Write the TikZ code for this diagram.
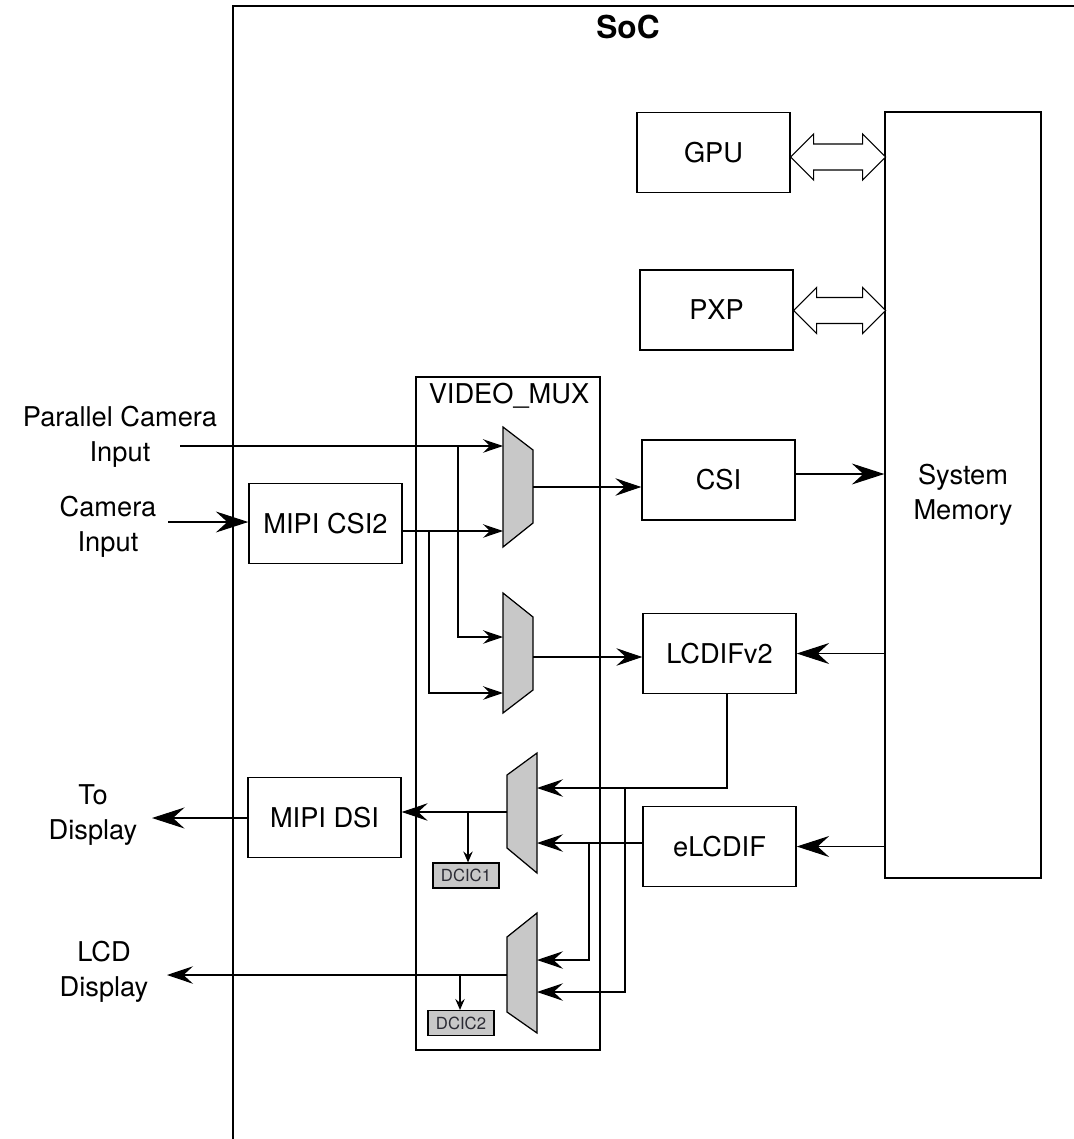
\documentclass[tikz,border=0pt]{standalone}
\usepackage{fontspec}
\setmainfont{TeX Gyre Heros}
\usetikzlibrary{arrows.meta,positioning}
\definecolor{GrisMux}{HTML}{C8C8C8}
\definecolor{TextoDcic}{HTML}{2A2A33}
\tikzset{
  bigtip/.tip={Stealth[length=6.5mm,width=4.2mm,inset=2.3mm]},
  midtip/.tip={Stealth[length=5.2mm,width=3.5mm,inset=1.9mm]},
  smalltip/.tip={Stealth[length=4mm,width=2.7mm,inset=1.4mm]},
  tinytip/.tip={Stealth[length=2.2mm,width=1.9mm,inset=0.8mm]}
}

\begin{document}
\begin{tikzpicture}[
  x=0.02cm,y=-0.02cm,
  font=\fontsize{15.5}{20}\selectfont,
  blk/.style={draw,line width=0.8pt,minimum width=3.06cm,minimum height=1.6cm,inner sep=0pt},
  wire/.style={line width=0.6pt},
  bigarr/.style={wire,-bigtip},
  midarr/.style={wire,-midtip},
  smallarr/.style={wire,-smalltip},
  tinyarr/.style={wire,-tinytip},
  muxbox/.style={draw,line width=0.7pt,fill=GrisMux},
  dcic/.style={draw,line width=0.7pt,fill=GrisMux,minimum width=1.32cm,minimum height=0.5cm,
    inner sep=0pt,text=TextoDcic,font=\fontsize{9.5}{11}\selectfont},
  lbl/.style={align=center},
  dblarr/.style={draw,line width=0.6pt,fill=white}
]
  \useasboundingbox (0,0) rectangle (1074,1139);

  % Frontera del SoC
  \draw[line width=1pt] (1074,6) -- (233,6) -- (233,1139);
  \node[font=\bfseries\fontsize{18}{20}\selectfont] (soc) at (628,27) {SoC};

  % Bloques
  \node[blk] (gpu) at (713.5,152.5) {GPU};
  \node[blk] (pxp) at (716.5,310) {PXP};
  \node[blk] (csi) at (718.5,480) {CSI};
  \node[blk] (lcdif) at (719.5,653.5) {LCDIFv2};
  \node[blk] (elcdif) at (719.5,846.5) {eLCDIF};
  \node[blk] (csitwo) at (325.5,523.5) {MIPI CSI2};
  \node[blk] (dsi) at (324.5,817.5) {MIPI DSI};
  \node[draw,line width=0.8pt,minimum width=3.12cm,minimum height=15.32cm,align=center]
    (mem) at (963,495) {System\\Memory};

  % Caja VIDEO_MUX
  \node[draw,line width=0.7pt,minimum width=3.68cm,minimum height=13.46cm] (vmux) at (508,713.5) {};
  \node (vmlbl) at (509,396) {VIDEO\_MUX};

  % Multiplexores
  \draw[muxbox] (503,427) -- (533,450) -- (533,523) -- (503,547) -- cycle;
  \draw[muxbox] (503,593) -- (533,617) -- (533,690) -- (503,713) -- cycle;
  \draw[muxbox] (537,753) -- (507,775) -- (507,848) -- (537,873) -- cycle;
  \draw[muxbox] (537,913) -- (507,937) -- (507,1012) -- (537,1033) -- cycle;
  \coordinate (mAin1) at (503,446);
  \coordinate (mAin2) at (503,531);
  \coordinate (mAout) at (533,487);
  \coordinate (mBin1) at (503,637);
  \coordinate (mBin2) at (503,693);
  \coordinate (mBout) at (533,657);
  \coordinate (mCin1) at (537,788);
  \coordinate (mCin2) at (537,843);
  \coordinate (mCout) at (507,812);
  \coordinate (mDin1) at (537,960);
  \coordinate (mDin2) at (537,992);
  \coordinate (mDout) at (507,975);

  \node[dcic] (dcicone) at (466,875.5) {DCIC1};
  \node[dcic] (dcictwo) at (461,1023) {DCIC2};

  % Textos exteriores
  \node[lbl] (parlbl) at (120,437) {Parallel Camera\\Input};
  \node[lbl] (camlbl) at (108,527) {Camera\\Input};
  \node[lbl] (todlbl) at (93,815) {To\\Display};
  \node[lbl] (lcdlbl) at (104,972) {LCD\\Display};
  \coordinate (parin) at (180,446);
  \coordinate (camin) at (168,522);
  \coordinate (todisp) at (152,818);
  \coordinate (lcdout) at (167,975);

  % Flechas dobles hacia la memoria
  \draw[dblarr] ([yshift=-0.09cm]gpu.east) -- ++(23,-23) -- ++(0,10) -- ++(49,0) -- ++(0,-10)
    -- ++(23,23) -- ++(-23,23) -- ++(0,-10) -- ++(-49,0) -- ++(0,10) -- cycle;
  \draw[dblarr] ([yshift=-0.01cm]pxp.east) -- ++(23,-23) -- ++(0,10) -- ++(46,0) -- ++(0,-10)
    -- ++(23,23) -- ++(-23,23) -- ++(0,-10) -- ++(-46,0) -- ++(0,10) -- cycle;

  % Entradas de camara
  \coordinate (jA) at (458,446);
  \coordinate (jB) at (429,531);
  \draw[smallarr] (parin) -- (mAin1);
  \draw[smallarr] (jA) |- (mBin1);
  \draw[bigarr] (camin) -- (csitwo.west |- camin);
  \draw[smallarr] (csitwo.east |- mAin2) -- (mAin2);
  \draw[smallarr] (jB) |- (mBin2);
  \draw[midarr] (mAout) -- (csi.west |- mAout);
  \draw[midarr] (mBout) -- (lcdif.west |- mBout);

  % Memoria
  \draw[bigarr] ([yshift=0.12cm]csi.east) -- ([yshift=0.12cm]csi.east -| mem.west);
  \draw[bigarr] (mem.west |- lcdif.east) -- (lcdif.east);
  \draw[bigarr] (mem.west |- elcdif.east) -- (elcdif.east);

  % Salidas de pantalla
  \coordinate (jC) at (625,788);
  \coordinate (jD) at (589,843);
  \coordinate (jE) at (468,812);
  \coordinate (jF) at (460,975);
  \draw[midarr] ([xshift=0.15cm]lcdif.south) |- (mCin1);
  \draw[midarr] (jC) |- (mDin2);
  \draw[midarr] (elcdif.west |- mCin2) -- (mCin2);
  \draw[midarr] (jD) |- (mDin1);
  \draw[midarr] (mCout) -- (dsi.east |- mCout);
  \draw[tinyarr] (jE) -- (jE |- dcicone.north);
  \draw[bigarr] (dsi.west |- todisp) -- (todisp);
  \draw[midarr] (mDout) -- (lcdout);
  \draw[tinyarr] (jF) -- (jF |- dcictwo.north);
\end{tikzpicture}
\end{document}
